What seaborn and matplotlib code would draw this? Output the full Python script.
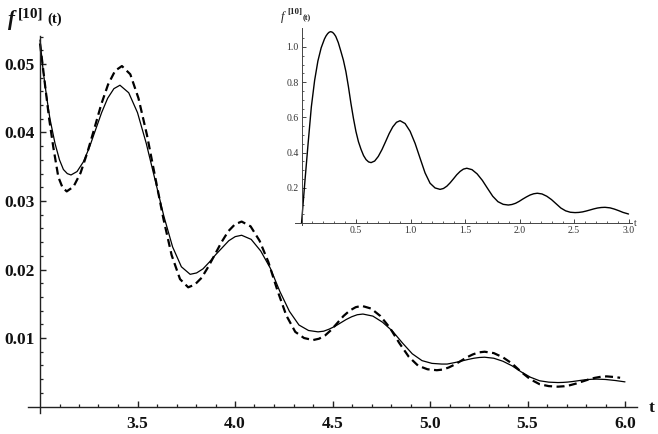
import matplotlib
matplotlib.use("Agg")
import matplotlib.pyplot as plt
import seaborn as sns
import pandas as pd
from matplotlib.ticker import FixedLocator, FormatStrFormatter

# ---------------- data ----------------
t_solid = [3.000, 3.017, 3.034, 3.051, 3.077, 3.100, 3.120, 3.140, 3.159,
           3.190, 3.222, 3.253, 3.285, 3.316, 3.347, 3.379, 3.410,
           3.455, 3.500, 3.545, 3.590, 3.635, 3.680, 3.725, 3.770,
           3.803, 3.836, 3.869, 3.902, 3.935, 3.968, 4.001, 4.034,
           4.083, 4.132, 4.181, 4.230, 4.279, 4.328, 4.377, 4.426,
           4.455, 4.483, 4.512, 4.541, 4.570, 4.598, 4.627, 4.656,
           4.707, 4.757, 4.808, 4.858, 4.909, 4.959, 5.010, 5.060,
           5.088, 5.115, 5.143, 5.170, 5.198, 5.225, 5.253, 5.280,
           5.327, 5.374, 5.421, 5.468, 5.515, 5.562, 5.609, 5.656,
           5.681, 5.706, 5.731, 5.756, 5.780, 5.805, 5.830, 5.855,
           5.900, 5.950, 6.000]
f_solid = [0.0535, 0.0488, 0.0452, 0.0420, 0.0384, 0.0360, 0.0346, 0.0340, 0.0338,
           0.0343, 0.0357, 0.0378, 0.0404, 0.0429, 0.0450, 0.0464, 0.0469,
           0.0458, 0.0429, 0.0384, 0.0331, 0.0278, 0.0233, 0.0204, 0.0193,
           0.0195, 0.0201, 0.0211, 0.0222, 0.0232, 0.0242, 0.0248, 0.0250,
           0.0244, 0.0227, 0.0202, 0.0168, 0.0139, 0.0119, 0.0111, 0.0109,
           0.0110, 0.0113, 0.0117, 0.0122, 0.0127, 0.0131, 0.0134, 0.0135,
           0.0132, 0.0123, 0.0110, 0.0093, 0.0077, 0.0067, 0.0063, 0.0062,
           0.0062, 0.00635, 0.00651, 0.00670, 0.00689, 0.00705, 0.00716, 0.0072,
           0.00705, 0.00661, 0.00594, 0.00505, 0.00428, 0.00376, 0.00356, 0.0035,
           0.00352, 0.00357, 0.00365, 0.00375, 0.00385, 0.00393, 0.00398, 0.0040,
           0.00395, 0.00380, 0.0036]

t_dashed = [3.000, 3.013, 3.026, 3.047, 3.068, 3.094, 3.115, 3.137,
            3.172, 3.208, 3.243, 3.279, 3.314, 3.349, 3.385, 3.420,
            3.463, 3.505, 3.548, 3.590, 3.633, 3.675, 3.718, 3.760,
            3.794, 3.829, 3.863, 3.897, 3.931, 3.966, 4.000, 4.034,
            4.080, 4.126, 4.171, 4.217, 4.263, 4.309, 4.354, 4.400,
            4.431, 4.463, 4.494, 4.525, 4.556, 4.588, 4.619, 4.650,
            4.698, 4.746, 4.794, 4.843, 4.891, 4.939, 4.987, 5.035,
            5.066, 5.096, 5.127, 5.158, 5.188, 5.219, 5.249, 5.280,
            5.327, 5.374, 5.421, 5.468, 5.515, 5.562, 5.609, 5.656,
            5.687, 5.719, 5.750, 5.781, 5.812, 5.844, 5.875, 5.906,
            5.940, 5.975]
f_dashed = [0.0530, 0.0500, 0.0469, 0.0420, 0.0379, 0.0335, 0.0320, 0.0314,
            0.0321, 0.0341, 0.0371, 0.0406, 0.0441, 0.0470, 0.0490, 0.0497,
            0.0485, 0.0450, 0.0397, 0.0336, 0.0274, 0.0221, 0.0186, 0.0174,
            0.0178, 0.0188, 0.0204, 0.0222, 0.0240, 0.0256, 0.0266, 0.0270,
            0.0263, 0.0242, 0.0211, 0.0170, 0.0133, 0.0109, 0.0100, 0.0097,
            0.0099, 0.0104, 0.0112, 0.0122, 0.0132, 0.0140, 0.0145, 0.0147,
            0.0143, 0.0132, 0.0115, 0.00925, 0.00727, 0.00596, 0.00544, 0.0053,
            0.0054, 0.0057, 0.00613, 0.00665, 0.00717, 0.0076, 0.0079, 0.0080,
            0.0078, 0.00718, 0.00627, 0.00504, 0.00397, 0.00326, 0.00298, 0.0029,
            0.00296, 0.00312, 0.00336, 0.00365, 0.00394, 0.00418, 0.00434, 0.0044,
            0.00432, 0.0042]

t_inset = [0.000, 0.030, 0.060, 0.090, 0.120, 0.150, 0.180, 0.210, 0.225, 0.240,
           0.254, 0.268, 0.285, 0.300, 0.314, 0.337, 0.361, 0.384, 0.407,
           0.430, 0.453, 0.476, 0.499, 0.522, 0.546, 0.569, 0.592, 0.615, 0.638,
           0.671, 0.704, 0.738, 0.771, 0.804, 0.837, 0.871, 0.904,
           0.950, 0.996, 1.042, 1.088, 1.133, 1.179, 1.225, 1.271,
           1.302, 1.333, 1.363, 1.394, 1.424, 1.455, 1.485, 1.516,
           1.564, 1.611, 1.659, 1.707, 1.754, 1.802, 1.850, 1.897,
           1.930, 1.964, 1.997, 2.030, 2.063, 2.097, 2.130, 2.163,
           2.206, 2.250, 2.293, 2.336, 2.379, 2.423, 2.466, 2.509,
           2.543, 2.578, 2.612, 2.647, 2.681, 2.715, 2.750, 2.784,
           2.830, 2.870, 2.910, 2.950, 3.000]
f_inset = [0.000, 0.230, 0.450, 0.660, 0.810, 0.920, 0.995, 1.045, 1.063, 1.076,
           1.084, 1.087, 1.083, 1.073, 1.060, 1.025, 0.975, 0.925, 0.860,
           0.775, 0.680, 0.595, 0.520, 0.462, 0.418, 0.383, 0.360, 0.347, 0.343,
           0.352, 0.378, 0.417, 0.462, 0.508, 0.546, 0.572, 0.581,
           0.565, 0.521, 0.452, 0.367, 0.285, 0.226, 0.199, 0.191,
           0.196, 0.209, 0.228, 0.251, 0.274, 0.293, 0.306, 0.311,
           0.303, 0.279, 0.242, 0.196, 0.152, 0.121, 0.106, 0.102,
           0.105, 0.112, 0.123, 0.136, 0.148, 0.159, 0.166, 0.169,
           0.165, 0.152, 0.133, 0.109, 0.085, 0.069, 0.061, 0.059,
           0.060, 0.063, 0.068, 0.074, 0.080, 0.085, 0.088, 0.089,
           0.086, 0.079, 0.070, 0.060, 0.051]

main_xticks = [3.5, 4.0, 4.5, 5.0, 5.5, 6.0]
main_yticks = [0.01, 0.02, 0.03, 0.04, 0.05]
inset_xticks = [0.5, 1.0, 1.5, 2.0, 2.5, 3.0]
inset_yticks = [0.2, 0.4, 0.6, 0.8, 1.0]

# ---------------- style ----------------
sns.set_style("ticks")
plt.rcParams['font.family'] = ['Liberation Serif', 'DejaVu Serif']

W, H = 658, 434
fig = plt.figure(figsize=(W / 100, H / 100), dpi=100)


def px_rect(x0, y0, x1, y1):
    """pixel box (top-left origin) -> figure fraction rect"""
    return [x0 / W, 1 - y1 / H, (x1 - x0) / W, (y1 - y0) / H]


# main axes: t 2.94..6.06 ; f -0.0009..0.0541
ax = fig.add_axes(px_rect(28.3, 35.9, 636.7, 412.7))
ax.set_facecolor('none')
df_s = pd.DataFrame({'t': t_solid, 'f': f_solid})
df_d = pd.DataFrame({'t': t_dashed, 'f': f_dashed})
sns.lineplot(data=df_s, x='t', y='f', ax=ax, color='black', lw=0.9,
             estimator=None, sort=False)
sns.lineplot(data=df_d, x='t', y='f', ax=ax, color='black', lw=1.6,
             estimator=None, sort=False)
ax.lines[-1].set_dashes((3.6, 2.0))
ax.set_xlim(2.94, 6.06)
ax.set_ylim(-0.0009, 0.0541)
ax.set_xlabel('')
ax.set_ylabel('')
for s in ['top', 'right']:
    ax.spines[s].set_visible(False)
ax.spines['left'].set_position(('data', 3.0))
ax.spines['bottom'].set_position(('data', 0.0))
for s in ['left', 'bottom']:
    ax.spines[s].set_linewidth(1.0)
    ax.spines[s].set_color('#222222')
ax.xaxis.set_major_locator(FixedLocator(main_xticks))
ax.xaxis.set_minor_locator(FixedLocator([round(3.1 + 0.1 * i, 1) for i in range(30)
                                         if round(3.1 + 0.1 * i, 1) not in main_xticks]))
ax.yaxis.set_major_locator(FixedLocator(main_yticks))
ax.yaxis.set_minor_locator(FixedLocator([round(0.002 * i, 3) for i in range(1, 28)
                                         if round(0.002 * i, 3) not in main_yticks]))
ax.xaxis.set_major_formatter(FormatStrFormatter('%.1f'))
ax.yaxis.set_major_formatter(FormatStrFormatter('%.2f'))
ax.tick_params(which='major', direction='in', length=4.5, width=1.0, color='#222222')
ax.tick_params(which='minor', direction='in', length=2.5, width=0.9, color='#222222')
ax.tick_params(axis='x', which='major', pad=6.5)
ax.tick_params(axis='y', which='major', pad=4)
for lab in ax.get_xticklabels() + ax.get_yticklabels():
    lab.set_fontweight('bold')
    lab.set_fontsize(12.5)
    lab.set_color('#111111')

# main axis labels
fig.text(8 / W, 1 - 25 / H, 'f', fontsize=15, fontweight='bold', style='italic',
         va='baseline', ha='left', color='#111111')
fig.text(18 / W, 1 - 17 / H, '[10]', fontsize=11, fontweight='bold',
         va='baseline', ha='left', color='#111111')
fig.text(47 / W, 1 - 23 / H, '(t)', fontsize=10.5, fontweight='bold',
         va='baseline', ha='left', color='#111111')
fig.text(649 / W, 1 - 412 / H, 't', fontsize=12.5, fontweight='bold',
         va='baseline', ha='left', color='#111111')

# inset axes: t -0.06..3.03 ; f -0.012..1.11
ax2 = fig.add_axes(px_rect(295.0, 27.6, 631.8, 225.1))
ax2.set_facecolor('white')
df_i = pd.DataFrame({'t': t_inset, 'f': f_inset})
sns.lineplot(data=df_i, x='t', y='f', ax=ax2, color='black', lw=1.0,
             estimator=None, sort=False)
ax2.set_xlim(-0.06, 3.03)
ax2.set_ylim(-0.012, 1.11)
ax2.set_xlabel('')
ax2.set_ylabel('')
for s in ['top', 'right']:
    ax2.spines[s].set_visible(False)
ax2.spines['left'].set_position(('data', 0.0))
ax2.spines['bottom'].set_position(('data', 0.0))
for s in ['left', 'bottom']:
    ax2.spines[s].set_linewidth(0.7)
    ax2.spines[s].set_color('#444444')
ax2.xaxis.set_major_locator(FixedLocator(inset_xticks))
ax2.xaxis.set_minor_locator(FixedLocator([round(0.1 * i, 1) for i in range(1, 31)
                                          if round(0.1 * i, 1) not in inset_xticks]))
ax2.yaxis.set_major_locator(FixedLocator(inset_yticks))
ax2.yaxis.set_minor_locator(FixedLocator([round(0.05 * i, 2) for i in range(1, 22)
                                          if round(0.05 * i, 2) not in inset_yticks]))
ax2.xaxis.set_major_formatter(FormatStrFormatter('%.1f'))
ax2.yaxis.set_major_formatter(FormatStrFormatter('%.1f'))
ax2.tick_params(which='major', direction='in', length=3, width=0.7, color='#444444',
                labelsize=7, labelcolor='#333333')
ax2.tick_params(which='minor', direction='in', length=1.6, width=0.6, color='#444444')
ax2.tick_params(axis='x', which='major', pad=2.5)
ax2.tick_params(axis='y', which='major', pad=2)

fig.text(281 / W, 1 - 20 / H, 'f', fontsize=9, style='italic',
         va='baseline', ha='left', color='#222222')
fig.text(287 / W, 1 - 14 / H, '[10]', fontsize=6.5, fontweight='bold',
         va='baseline', ha='left', color='#222222')
fig.text(303 / W, 1 - 20 / H, '(t)', fontsize=6, fontweight='bold',
         va='baseline', ha='left', color='#222222')
fig.text(634 / W, 1 - 226 / H, 't', fontsize=7,
         va='baseline', ha='left', color='#333333')

fig.savefig('out.png', dpi=100)
